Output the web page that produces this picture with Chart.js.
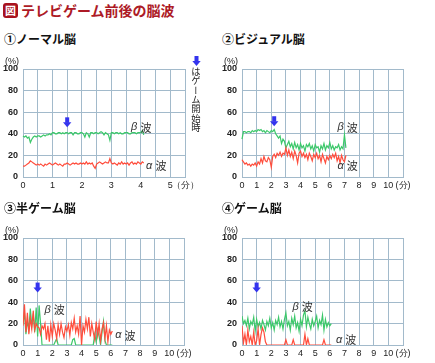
<!DOCTYPE html>
<html lang="ja">
<head>
<meta charset="utf-8">
<title>テレビゲーム前後の脳波</title>
<script src="https://cdn.jsdelivr.net/npm/chart.js@4.4.1/dist/chart.umd.min.js"></script>
<style>
  body { margin: 0; background: #fff; width: 435px; height: 363px; overflow: hidden; position: relative;
         font-family: "Noto Sans CJK JP", sans-serif; color: #111; }
  canvas { position: absolute; }
  .t { position: absolute; white-space: nowrap; z-index: 2; }
  .box { left: 3px; top: 3px; width: 15px; height: 15px; line-height: 15px; text-align: center; background: #a8121e;
         color: #fff; font-size: 11px; font-weight: bold; border-radius: 3px; }
  .main { left: 21px; top: 1px; font-size: 14px; font-weight: bold; color: #ad1a26; line-height: 18px; }
  .pt { font-size: 12px; font-weight: bold; line-height: 14px; color: #111; }
  .pc { font-size: 9px; line-height: 10px; font-family: "Liberation Sans", sans-serif; color: #222; }
  .vt { left: 191px; top: 67px; font-size: 9.3px; writing-mode: vertical-rl; text-orientation: upright; color: #222; line-height: 10px; }
</style>
</head>
<body>
<canvas id="c1" width="217" height="140" style="left:0;top:55px"></canvas>
<canvas id="c2" width="218" height="140" style="left:217px;top:55px"></canvas>
<canvas id="c3" width="217" height="168" style="left:0;top:195px"></canvas>
<canvas id="c4" width="218" height="168" style="left:217px;top:195px"></canvas>

<div class="t box">図</div>
<div class="t main">テレビゲーム前後の脳波</div>
<div class="t pt" style="left:4px;top:32px">①ノーマル脳</div>
<div class="t pt" style="left:222px;top:32px">②ビジュアル脳</div>
<div class="t pt" style="left:4px;top:201px">③半ゲーム脳</div>
<div class="t pt" style="left:222px;top:201px">④ゲーム脳</div>
<div class="t pc" style="left:5px;top:56px">(%)</div>
<div class="t pc" style="left:224px;top:56px">(%)</div>
<div class="t pc" style="left:5px;top:225px">(%)</div>
<div class="t pc" style="left:224px;top:225px">(%)</div>
<div class="t vt">はゲーム開始時</div>

<script>
// sampling interval in minutes for each panel
const dt1 = 0.05;
const dt2 = 0.1;
const dt3 = 0.1;
const dt4 = 0.1;

// ① normal
const beta1 = [
  38,37,38,36,37,32,35,37,38,37,
  38,38,37,38,39,38,39,39,40,39,
  41,41,40,40,41,41,40,41,40,41,
  41,40,41,41,39,41,41,40,40,41,
  41,40,37,41,40,37,41,41,40,41,
  41,40,41,42,41,39,41,40,39,34,
  41,41,40,41,41,40,41,40,40,41,
  41,41,40,40,41,41,41,40,41,41,
  41,43,39
];
const alpha1 = [
  10,10,11,12,13,15,14,13,12,11,
  12,11,12,11,10,12,11,12,13,12,
  11,12,13,12,11,12,11,10,12,12,
  13,12,11,12,13,12,13,12,12,13,
  12,13,12,14,12,13,12,13,10,8,
  12,13,14,13,12,13,14,13,13,17,
  13,12,13,12,11,13,12,14,12,13,
  12,13,11,13,14,12,13,12,14,13,
  12,14,13
];

// ② visual
const beta2 = [
  35,42,42,41,42,42,41,43,42,43,
  42,44,43,44,42,43,41,43,42,41,
  43,42,44,40,38,36,38,31,35,33,
  27,30,33,28,31,26,32,27,30,25,
  31,27,29,24,30,28,31,26,29,24,
  30,27,28,23,29,26,31,25,29,27,
  32,26,29,25,28,27,30,25,28,26,
  39,27
];
const alpha2 = [
  16,14,12,13,11,12,10,12,11,13,
  10,14,12,17,13,19,15,14,18,16,
  9,19,21,18,22,20,23,19,22,21,
  27,20,25,19,23,17,24,20,13,22,
  24,19,22,18,21,16,22,19,15,21,
  18,22,17,20,14,21,17,13,19,16,
  20,17,21,18,22,15,19,13,20,16,
  14,20
];

// ③ half game
const beta3 = [
  20,30,10,22,15,34,18,28,12,35,
  8,37,20,0,0,0,0,0,0,0,
  0,0,3,6,0,0,0,0,0,0,
  0,0,0,0,5,6,0,0,0,0,
  0,0,0,0,0,0,0,0,0,10,
  3,14,8,0,12,22,4,0,0,0,
  0,0
];
const alpha3 = [
  18,38,12,30,10,25,15,32,14,20,
  17,16,10,18,15,20,5,18,3,19,
  8,20,14,6,19,10,20,12,7,17,
  13,19,9,21,15,25,12,18,10,27,
  0,18,12,24,15,26,8,20,12,5,
  22,9,20,4,15,21,6,18,3,14,
  10,13
];

// ④ game
const beta4 = [
  27,20,23,18,25,15,22,19,26,13,
  24,17,21,15,23,19,14,22,18,25,
  16,21,14,23,19,26,17,22,15,24,
  30,18,22,14,25,19,27,16,21,13,
  24,18,28,32,17,26,20,15,24,18,
  22,27,16,23,19,28,14,24,17,21,
  18,20
];
const alpha4 = [
  18,2,10,0,14,3,8,0,12,0,
  4,15,0,10,16,12,3,0,0,0,
  0,0,0,0,0,0,0,0,0,0,
  5,0,0,0,0,5,0,0,0,0,
  0,0,0,10,0,6,0,0,0,0,
  0,0,0,0,0,0,5,0,0,0,
  0,0
];

const GREEN = '#3cc86a';
const RED = '#ff4d3c';
const GRID = '#a2bacb';

function pts(arr, dt) {
  return arr.map((v, i) => ({ x: +(i * dt).toFixed(2), y: v }));
}

function drawArrow(ctx, cx, tip) {
  ctx.fillStyle = '#3434ee';
  ctx.fillRect(cx - 2, tip - 10, 4, 5.5);
  ctx.beginPath();
  ctx.moveTo(cx - 4.2, tip - 5);
  ctx.lineTo(cx + 4.2, tip - 5);
  ctx.lineTo(cx, tip);
  ctx.closePath();
  ctx.fill();
}

const marks = {
  id: 'marks',
  afterDatasetsDraw(chart, args, opts) {
    const { ctx, scales: { x, y } } = chart;
    ctx.save();
    if (opts.arrow) drawArrow(ctx, x.getPixelForValue(opts.arrow[0]), y.getPixelForValue(opts.arrow[1]));
    if (opts.pixelArrow) drawArrow(ctx, opts.pixelArrow[0], opts.pixelArrow[1]);
    ctx.textBaseline = 'middle';
    ctx.fillStyle = '#333';
    for (const l of opts.labels || []) {
      const px = x.getPixelForValue(l.x), py = y.getPixelForValue(l.y);
      ctx.font = 'italic 11px "Liberation Sans"';
      ctx.fillText(l.g, px, py);
      const w = ctx.measureText(l.g).width;
      ctx.font = '11px "Noto Sans CJK JP"';
      ctx.fillText('波', px + w + 3, py);
    }
    ctx.restore();
  }
};

function makeChart(id, dt, beta, alpha, xMax, step, unit, yW, xH, pad, mk, clip) {
  new Chart(document.getElementById(id), {
    type: 'line',
    data: {
      datasets: [
        { data: pts(alpha, dt), borderColor: RED, borderWidth: 1.2, pointRadius: 0, clip: clip },
        { data: pts(beta, dt), borderColor: GREEN, borderWidth: 1.2, pointRadius: 0, clip: clip }
      ]
    },
    options: {
      responsive: false,
      animation: false,
      events: [],
      layout: { padding: pad },
      plugins: { legend: { display: false }, tooltip: { enabled: false }, marks: mk },
      scales: {
        x: {
          type: 'linear', min: 0, max: xMax,
          grid: { color: GRID, drawTicks: false },
          border: { color: GRID },
          afterFit: s => { s.height = xH; },
          ticks: {
            stepSize: step, autoSkip: false, maxRotation: 0, padding: 3,
            color: '#222', font: { family: 'Liberation Sans', size: 9 },
            callback: v => v === xMax ? unit : (Number.isInteger(v) ? v : '')
          }
        },
        y: {
          min: 0, max: 100,
          grid: { color: GRID, drawTicks: false },
          border: { color: GRID },
          afterFit: s => { s.width = yW; },
          ticks: {
            stepSize: 20, padding: 5,
            color: '#222', font: { family: 'Liberation Sans', size: 9, weight: 'bold' }
          }
        }
      }
    },
    plugins: [marks]
  });
}

makeChart('c1', dt1, beta1, alpha1, 5.5, 0.5, '（分）', 23, 18, { top: 14, right: 32, left: 0, bottom: 0 }, {
  arrow: [1.5, 46],
  pixelArrow: [196.5, 11],
  labels: [{ g: 'β', x: 3.67, y: 46 }, { g: 'α', x: 4.18, y: 10 }]
}, false);

makeChart('c2', dt2, beta2, alpha2, 11, 1, '(分)', 25, 18, { top: 14, right: 32, left: 0, bottom: 0 }, {
  arrow: [2.2, 47],
  labels: [{ g: 'β', x: 6.53, y: 46 }, { g: 'α', x: 6.53, y: 10 }]
}, false);

makeChart('c3', dt3, beta3, alpha3, 11, 1, '(分)', 23, 18, { top: 43, right: 33, left: 0, bottom: 0 }, {
  arrow: [1.0, 49],
  labels: [{ g: 'β', x: 1.47, y: 33 }, { g: 'α', x: 6.3, y: 9 }]
}, 0);

makeChart('c4', dt4, beta4, alpha4, 11, 1, '(分)', 25, 18, { top: 43, right: 32, left: 0, bottom: 0 }, {
  arrow: [1.0, 49],
  labels: [{ g: 'β', x: 3.45, y: 36 }, { g: 'α', x: 6.42, y: 5 }]
}, 0);
</script>
</body>
</html>
